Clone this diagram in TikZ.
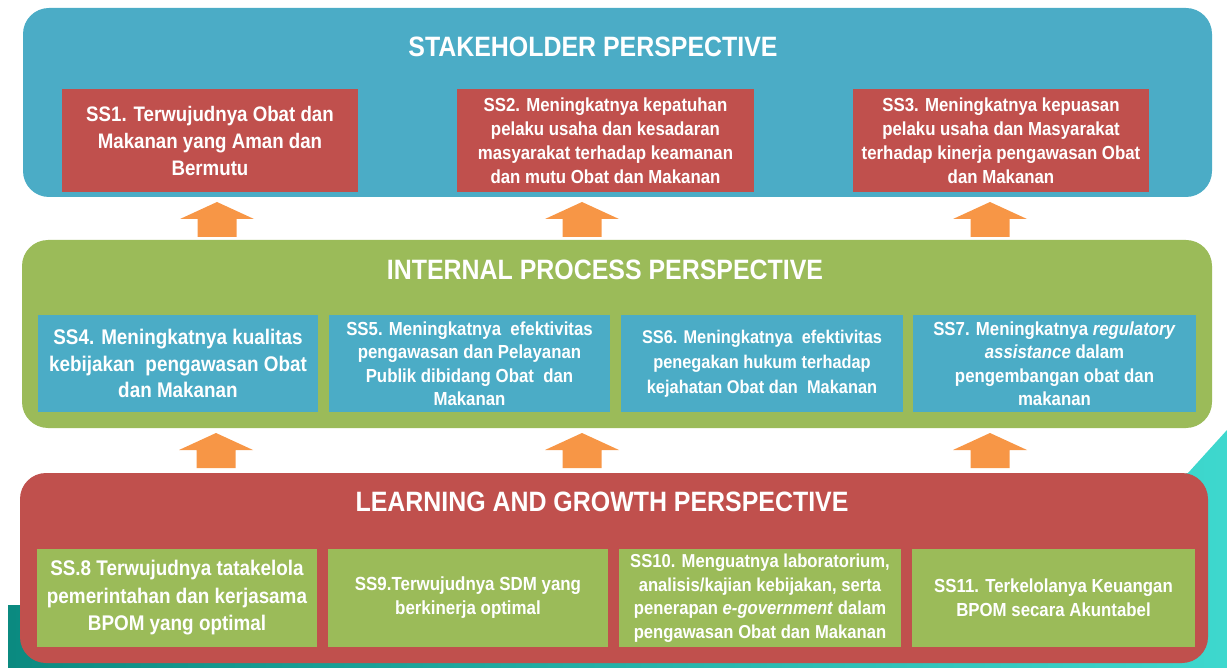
\documentclass[tikz,border=0pt]{standalone}
\usepackage{fontspec}
\setmainfont{Liberation Sans}
\newfontfamily\condF{Liberation Sans}[FakeStretch=0.89]
\definecolor{cBlue}{HTML}{4BACC6}
\definecolor{cRed}{HTML}{C0504D}
\definecolor{cGreen}{HTML}{9BBB59}
\definecolor{cOrange}{HTML}{F79646}
\definecolor{cTealD}{HTML}{0B8A80}
\definecolor{cTealL}{HTML}{3ED8CE}
\tikzset{
  layer/.style={rounded corners=26pt},
  inbox/.style={text=white, align=center, inner sep=0pt, minimum width=#1},
  title/.style={text=white, font=\fontsize{28}{32}\selectfont\bfseries\condF},
  uparrow/.pic={\fill[cOrange] (-19.5,0) -- (-19.5,-18) -- (-37,-18) -- (0,-35) -- (37,-18) -- (19.5,-18) -- (19.5,0) -- cycle;}
}
\begin{document}
\begin{tikzpicture}[x=1pt,y=-1pt]
\useasboundingbox (0,0) rectangle (1227,668);
% background teal
\shade[left color=cTealD, right color=cTealL] (8,605) -- (600,605) -- (1188,473) -- (1227,430) -- (1227,668) -- (8,668) -- cycle;
% layers
\fill[cBlue, layer] (23,8) rectangle (1212,197);
\fill[cGreen, layer] (22,240) rectangle (1212,428);
\fill[cRed, layer] (20,473) rectangle (1208,663);
% titles
\node[title] (t1) at (593,47) {STAKEHOLDER PERSPECTIVE};
\node[title] (t2) at (605,270) {INTERNAL PROCESS PERSPECTIVE};
\node[title] (t3) at (602,502) {LEARNING AND GROWTH PERSPECTIVE};
% stakeholder boxes
\node[inbox=296pt, minimum height=103pt, fill=cRed, font=\fontsize{21}{27}\selectfont\bfseries\condF] (ss1) at (210,140.5)
  {SS1. Terwujudnya Obat dan\\Makanan yang Aman dan\\Bermutu};
\node[inbox=297pt, minimum height=103pt, fill=cRed, font=\fontsize{18.9}{24}\selectfont\bfseries\condF] (ss2) at (605.5,140.5)
  {SS2. Meningkatnya kepatuhan\\pelaku usaha dan kesadaran\\masyarakat terhadap keamanan\\dan mutu Obat dan Makanan};
\node[inbox=296pt, minimum height=103pt, fill=cRed, font=\fontsize{18.9}{24}\selectfont\bfseries\condF] (ss3) at (1001,140.5)
  {SS3. Meningkatnya kepuasan\\pelaku usaha dan Masyarakat\\terhadap kinerja pengawasan Obat\\dan Makanan};
% internal process boxes
\node[inbox=280pt, minimum height=97pt, fill=cBlue, font=\fontsize{21.2}{26.5}\selectfont\bfseries\condF] (ss4) at (178,363.5)
  {SS4. Meningkatnya kualitas\\kebijakan\ \ pengawasan Obat\\dan Makanan};
\node[inbox=281pt, minimum height=97pt, fill=cBlue, font=\fontsize{18.9}{23.5}\selectfont\bfseries\condF] (ss5) at (469.5,363.5)
  {SS5. Meningkatnya\ \ efektivitas\\pengawasan dan Pelayanan\\Publik dibidang Obat\ \ dan\\Makanan};
\node[inbox=282pt, minimum height=97pt, fill=cBlue, font=\fontsize{18.4}{25}\selectfont\bfseries\condF] (ss6) at (762,363.5)
  {SS6. Meningkatnya\ \ efektivitas\\penegakan hukum terhadap\\kejahatan Obat dan\ \ Makanan};
\node[inbox=283pt, minimum height=97pt, fill=cBlue, font=\fontsize{18.9}{23.5}\selectfont\bfseries\condF] (ss7) at (1054.5,363.5)
  {SS7. Meningkatnya \textit{regulatory}\\\textit{assistance} dalam\\pengembangan obat dan\\makanan};
% learning boxes
\node[inbox=280pt, minimum height=98pt, fill=cGreen, font=\fontsize{21.2}{27.5}\selectfont\bfseries\condF] (ss8) at (177,598)
  {SS.8 Terwujudnya tatakelola\\pemerintahan dan kerjasama\\BPOM yang optimal};
\node[inbox=280pt, minimum height=98pt, fill=cGreen, font=\fontsize{19}{24}\selectfont\bfseries\condF] (ss9) at (468,598)
  {SS9.Terwujudnya SDM yang\\berkinerja optimal};
\node[inbox=282pt, minimum height=98pt, fill=cGreen, font=\fontsize{18.7}{23.5}\selectfont\bfseries\condF] (ss10) at (760,598)
  {SS10. Menguatnya laboratorium,\\analisis/kajian kebijakan, serta\\penerapan \textit{e-government} dalam\\pengawasan Obat dan Makanan};
\node[inbox=283pt, minimum height=98pt, fill=cGreen, font=\fontsize{18.9}{24}\selectfont\bfseries\condF] (ss11) at (1053.5,598)
  {SS11. Terkelolanya Keuangan\\BPOM secara Akuntabel};
% arrows
\pic at (217,237) {uparrow};
\pic at (582,237) {uparrow};
\pic at (990,237) {uparrow};
\pic at (216,468) {uparrow};
\pic at (582,468) {uparrow};
\pic at (990,468) {uparrow};
\end{tikzpicture}
\end{document}
